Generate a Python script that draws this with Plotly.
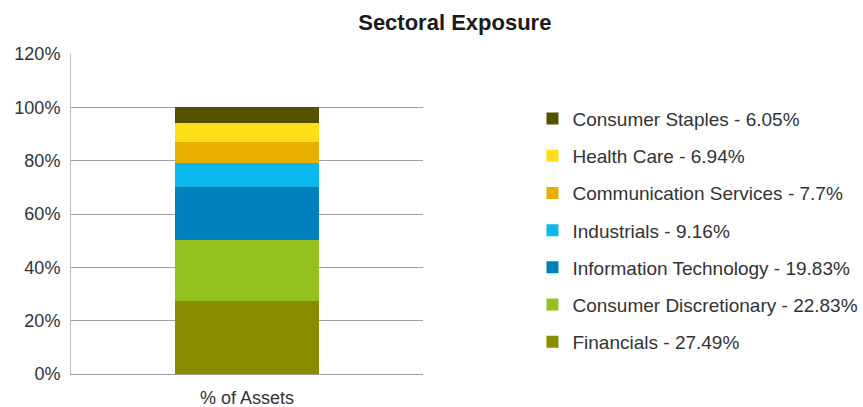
import plotly.graph_objects as go

category = ["% of Assets"]
sectors = ["Financials", "Consumer Discretionary", "Information Technology",
           "Industrials", "Communication Services", "Health Care", "Consumer Staples"]
values = [27.49, 22.83, 19.83, 9.16, 7.7, 6.94, 6.05]
colors = ["#8A8C00", "#95C11F", "#0080BA", "#0DB9EC", "#E8AE00", "#FFDD17", "#525200"]
y_ticks = [0, 20, 40, 60, 80, 100, 120]
y_tick_labels = ["0%", "20%", "40%", "60%", "80%", "100%", "120%"]

fig = go.Figure()
n = len(sectors)
for i, (name, v, c) in enumerate(zip(sectors, values, colors)):
    fig.add_trace(go.Bar(
        x=category, y=[v], name=f"{name} - {v:g}%",
        marker=dict(color=c, line=dict(width=0)),
        legendgroup=name, legendrank=n - i, width=0.41,
    ))

fig.update_layout(
    barmode="stack",
    width=863, height=407,
    margin=dict(l=71, r=440, t=54, b=33, autoexpand=False),
    paper_bgcolor="white", plot_bgcolor="white",
    font=dict(family="Liberation Sans, Arial, sans-serif", size=18, color="#333333"),
    title=dict(text="<b>Sectoral Exposure</b>", x=0.527, xanchor="center",
               y=0.945, yanchor="middle", font=dict(size=22, color="#1a1a1a")),
    xaxis=dict(showgrid=False, showline=True, linecolor="#9a9a9a", linewidth=1,
               ticks="", automargin=False, ticklabelstandoff=7,
               tickfont=dict(size=18, color="#333333")),
    yaxis=dict(range=[0, 120], tickvals=y_ticks, ticktext=y_tick_labels,
               showgrid=True, gridcolor="#a0a0a0", gridwidth=1, automargin=False,
               showline=True, linecolor="#bdbdbd", linewidth=1, zeroline=False,
               ticks="", ticklabelstandoff=6,
               tickfont=dict(size=18, color="#333333")),
    legend=dict(xref="container", yref="container", x=0.617, y=0.755,
                xanchor="left", yanchor="top", maxheight=1.0,
                traceorder="grouped", tracegroupgap=9.5,
                font=dict(size=19, color="#333333"), bgcolor="rgba(0,0,0,0)"),
    showlegend=True,
)

fig.write_html("out.html", config={"displayModeBar": False},
               post_script="document.body.style.margin='0px';")
